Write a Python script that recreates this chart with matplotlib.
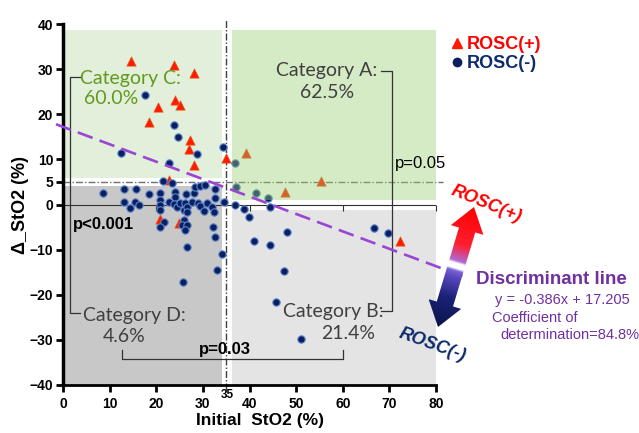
import numpy as np
import matplotlib
matplotlib.use("Agg")
import matplotlib.pyplot as plt
from matplotlib.patches import Rectangle, Polygon
from matplotlib.lines import Line2D
from matplotlib.colors import LinearSegmentedColormap

# ROSC(+) patients (triangles)
pos_x = [14.5, 23.8, 28.1, 24.0, 25.1, 20.4, 18.4, 27.3, 27.0, 28.1, 35.0, 39.2,
         22.8, 47.6, 55.3, 72.3, 20.7, 24.8]
pos_y = [31.7, 30.9, 29.1, 23.2, 22.0, 21.5, 18.3, 14.3, 12.3, 8.8, 10.4, 11.5,
         5.4, 2.8, 5.2, -8.1, -3.3, -4.2]

# ROSC(-) patients (circles)
neg_x = [17.6, 12.4, 23.8, 24.7, 28.7, 34.3, 22.7, 36.8,
         37.1, 41.3, 44.0,
         21.5, 23.4, 8.6, 13.1, 15.6, 18.4, 20.7, 24.0, 24.0, 26.3, 28.2, 28.4, 29.4, 30.4, 32.7, 32.6,
         13.1, 14.4, 15.4, 16.2, 20.7, 20.8, 20.9, 22.8, 23.9, 24.4, 25.1, 25.9, 26.1, 26.5, 26.7,
         27.7, 28.9, 29.3, 30.2, 30.9, 31.9, 32.3, 34.6, 36.9, 38.9, 39.8, 44.5,
         21.7, 20.9, 26.0, 25.5, 26.5, 26.2, 32.2, 32.7, 26.7, 34.2, 33.0, 25.8, 40.9, 44.5,
         48.1, 47.4, 45.7, 51.1, 66.7, 69.8]
neg_y = [24.3, 11.5, 17.6, 15.0, 11.3, 12.8, 9.1, 9.3,
         3.9, 2.6, 1.5,
         5.3, 4.8, 2.6, 3.4, 3.4, 2.3, 2.5, 2.7, 1.7, 2.3, 2.5, 3.8, 4.1, 4.3, 3.4, 1.4,
         0.6, -0.7, 0.6, 0.0, 1.0, -0.2, -1.3, 0.5, 0.2, -0.5, 0.4, -1.2, 0.3, -0.6, -1.7,
         0.5, 0.3, -0.4, -1.4, 0.3, -0.5, -1.6, 0.5, 0.0, -1.0, -2.7, -0.6,
         -3.8, -5.0, -3.4, -4.5, -4.5, -5.6, -5.0, -7.2, -9.5, -11.0, -14.5, -17.1, -8.0, -8.9,
         -6.2, -14.7, -21.6, -29.8, -5.1, -6.4]

# discriminant line
slope = -0.386
intercept = 17.205
line_x = np.array([-1.5, 86.5])

x_ticks = [0, 10, 20, 30, 40, 50, 60, 70, 80]
y_ticks = [-40, -30, -20, -10, 0, 5, 10, 20, 30, 40]

purple = '#7030a0'
navy = '#0d2a6b'
tick_font = 'Liberation Sans'
cat_font = 'Lato'

fig = plt.figure(figsize=(6.39, 4.33), dpi=100)
ax = fig.add_axes([63/639, 1-385/433, 373/639, 361/433])

# category boxes
ax.add_patch(Rectangle((0.4, 5.9), 33.6, 32.8, color='#e2efda', zorder=1, lw=0))
ax.add_patch(Rectangle((0.4, -40), 33.6, 44.0, color='#c8c8c8', zorder=1, lw=0))
ax.add_patch(Rectangle((36.3, -40), 43.8, 38.7, color='#e4e4e4', zorder=1, lw=0, clip_on=False))
ax.add_patch(Rectangle((36.3, 1.1), 43.8, 37.5, color='#98cd70', alpha=0.4, zorder=4, lw=0, clip_on=False))

# reference lines
ax.plot([35, 35], [-41, 40.8], color='#404040', lw=1, dashes=(5, 1.5, 1, 1.5), zorder=2, clip_on=False)
ax.plot([0, 81.5], [5, 5], color='#707070', lw=1, dashes=(5, 1.5, 1, 1.5), zorder=2, clip_on=False)
ax.plot([0, 80], [0, 0], color='#303030', lw=0.8, zorder=2)
ax.plot([20, 40, 60, 80], [0, 0, 0, 0], ls='none', marker=3, ms=4, mew=0.8, color='#303030', zorder=2, clip_on=False)

# points
ax.scatter(pos_x, pos_y, marker='^', s=45, facecolor='#ff1a00', edgecolor='#e06020', lw=0.5, zorder=3)
ax.scatter(neg_x, neg_y, marker='o', s=28, facecolor='#0b1f5e', edgecolor='#5b86d0', lw=0.8, zorder=3)

ax.plot(line_x, slope*line_x + intercept, color='#9b45d4', lw=1.9, dashes=(6, 2.8), zorder=6, clip_on=False)

# brackets
bk = dict(color='#333333', lw=0.9, clip_on=False, zorder=5)
ax.plot([3.6, 1.5, 1.5, 3.6], [28.3, 28.3, -24.1, -24.1], **bk)
ax.plot([68.2, 70.6, 70.6, 68.2], [29.6, 29.6, -23.7, -23.7], **bk)
ax.plot([12.7, 12.7, 60.1, 60.1], [-32.3, -34.3, -34.3, -32.3], **bk)

ax.text(2.1, -5.5, 'p<0.001', fontsize=12, fontweight='bold', family=tick_font, zorder=7)
ax.text(34.8, -33.2, 'p=0.03', fontsize=12, fontweight='bold', family=tick_font, ha='center', zorder=7)
ax.text(71.1, 8.1, 'p=0.05', fontsize=12, family=tick_font, zorder=7)

ct = dict(fontsize=14, family=cat_font, zorder=7)
ax.text(3.6, 26.8, 'Category C:', color='#639a1e', **ct)
ax.text(4.5, 22.3, '60.0%', color='#639a1e', **ct)
ax.text(67.3, 28.4, 'Category A:', color='#404040', ha='right', **ct)
ax.text(50.8, 23.6, '62.5%', color='#404040', **ct)
ax.text(4.2, -25.9, 'Category D:', color='#404040', **ct)
ax.text(8.5, -30.4, '4.6%', color='#404040', **ct)
ax.text(68.8, -24.9, 'Category B:', color='#404040', ha='right', **ct)
ax.text(55.3, -29.9, '21.4%', color='#404040', **ct)

# axes styling
ax.set_xlim(0, 80)
ax.set_ylim(-40, 40)
ax.set_xticks(x_ticks)
ax.set_yticks(y_ticks)
for s in ['top', 'right']:
    ax.spines[s].set_visible(False)
ax.spines['left'].set_linewidth(2.5)
ax.spines['bottom'].set_linewidth(2)
ax.tick_params(direction='out', length=5, width=2, pad=2, labelsize=10)
for lab in ax.get_xticklabels() + ax.get_yticklabels():
    lab.set_fontweight('bold')
    lab.set_family(tick_font)
ax.tick_params(axis='x', pad=4)
ax.annotate('35', (35, -40), xytext=(0.5, -7), textcoords='offset points', ha='center', va='center',
            fontsize=8.5, fontweight='bold', family=tick_font, annotation_clip=False)

ax.set_xlabel('Initial  StO2 (%)', fontsize=12.5, fontweight='bold', family=tick_font)
ax.set_ylabel('Δ_StO2 (%)', fontsize=13, fontweight='bold', family=tick_font)
ax.xaxis.set_label_coords(0.528, -0.077)
ax.yaxis.set_label_coords(-0.09, 0.5)

# legend
handles = [Line2D([], [], ls='none', marker='^', ms=7, color='#ff1a00'),
           Line2D([], [], ls='none', marker='o', ms=6, color='#0b1f5e')]
leg = ax.legend(handles, ['ROSC(+)', 'ROSC(-)'], loc='upper left', bbox_to_anchor=(441/639, 1-27/433),
                bbox_transform=fig.transFigure, frameon=False, handlelength=0.8, handletextpad=0.15,
                borderpad=0, labelspacing=0.1, prop=dict(family=tick_font, weight='bold', size=13))
for t, c in zip(leg.get_texts(), ['#ff0000', navy]):
    t.set_color(c)

# overlay in pixel coordinates for the gradient arrow and side notes
ov = fig.add_axes([0, 0, 1, 1], zorder=5)
ov.patch.set_alpha(0)
B = np.array([438.0, 327.0])
T = np.array([474.0, 207.0])
L = np.linalg.norm(T - B)
u = (T - B) / L
n = np.array([-u[1], u[0]])
hw, sw, hl = 17, 8.5, 24
pts = []
for s_, w in [(0, 0), (hl, hw), (hl, sw), (L-hl, sw), (L-hl, hw), (L, 0),
              (L-hl, -hw), (L-hl, -sw), (hl, -sw), (hl, -hw)]:
    pts.append(B + s_*u + w*n)
pts = np.array(pts)
poly = Polygon(pts, closed=True, facecolor='none', edgecolor='none', transform=ov.transData)
ov.add_patch(poly)
x0, x1 = pts[:, 0].min(), pts[:, 0].max()
y0, y1 = pts[:, 1].min(), pts[:, 1].max()
gx, gy = np.meshgrid(np.linspace(x0, x1, 200), np.linspace(y0, y1, 300))
sval = ((gx - B[0])*u[0] + (gy - B[1])*u[1]) / L
cmap = LinearSegmentedColormap.from_list('arr', [
    (0.0, '#081448'), (0.25, '#1c2278'), (0.42, '#5a48c0'), (0.47, '#7a62d8'),
    (0.49, '#ffffff'), (0.53, '#ffffff'), (0.55, '#b068d8'), (0.68, '#ff2030'), (1.0, '#ff0000')])
im = ov.imshow(sval, extent=(x0, x1, y1, y0), origin='upper', cmap=cmap, vmin=0, vmax=1, aspect='auto')
im.set_clip_path(poly)
ov.set_xlim(0, 639)
ov.set_ylim(433, 0)
ov.axis('off')

ov.text(486, 204, 'ROSC(+)', color='#ff0000', fontsize=13, fontweight='bold', style='italic',
        family=tick_font, rotation=-22, ha='center', va='center')
ov.text(432, 345, 'ROSC(-)', color=navy, fontsize=13, fontweight='bold', style='italic',
        family=tick_font, rotation=-20, ha='center', va='center')
ov.text(476, 280, 'Discriminant line', color=purple, fontsize=13.5, fontweight='bold',
        family=tick_font, va='center')
ov.text(495, 300, 'y = -0.386x + 17.205', color=purple, fontsize=10.5, family=tick_font, va='center')
ov.text(492, 318, 'Coefficient of', color=purple, fontsize=10.5, family=tick_font, va='center')
ov.text(500, 335, 'determination=84.8%', color=purple, fontsize=10.5, family=tick_font, va='center')

fig.savefig('out.png', dpi=100)
